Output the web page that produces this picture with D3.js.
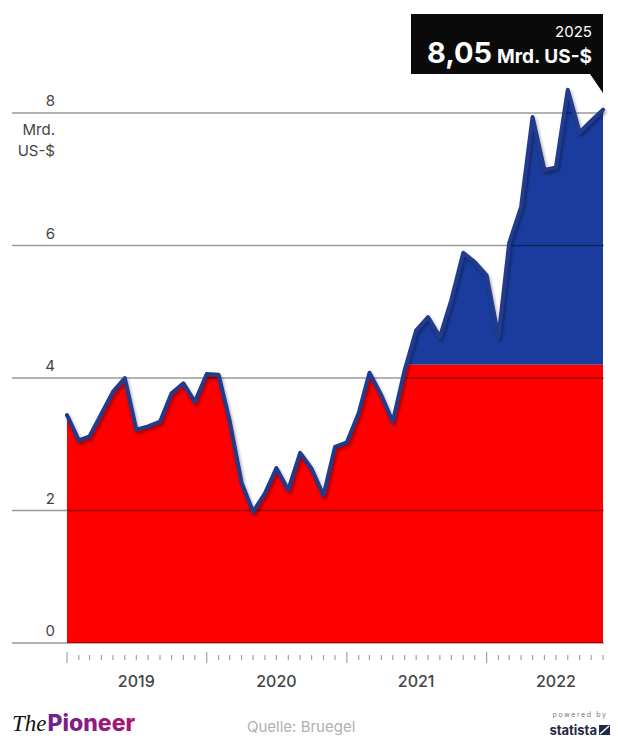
<!DOCTYPE html>
<html>
<head>
<meta charset="utf-8">
<script src="https://cdn.jsdelivr.net/npm/d3@7"></script>
<style>
  html, body { margin: 0; padding: 0; background: #fff; }
  svg { display: block; }
  text { font-family: "Inter", "Open Sans", sans-serif; }
</style>
</head>
<body>
<div id="chart"></div>
<script>
// ---------- DATA ----------
const startMonth = "2019-01";
const values = [
  3.44, 3.06, 3.12, 3.46, 3.79, 4.00, 3.22, 3.27, 3.34, 3.77, 3.92, 3.64,
  4.06, 4.05, 3.35, 2.42, 1.98, 2.26, 2.64, 2.31, 2.87, 2.63, 2.23, 2.96,
  3.03, 3.47, 4.08, 3.74, 3.34, 4.12, 4.72, 4.92, 4.62, 5.18, 5.89, 5.75,
  5.55, 4.62, 6.04, 6.58, 7.94, 7.14, 7.18, 8.35, 7.71, 7.88, 8.05
];
const threshold = 4.2;
const yTicks = [0, 2, 4, 6, 8];
const yearLabels = ["2019", "2020", "2021", "2022"];
const unitLines = ["Mrd.", "US-$"];
const calloutYear = "2025";
const calloutValue = "8,05";
const calloutUnit = "Mrd. US-$";
const sourceText = "Quelle: Bruegel";

// ---------- SETUP ----------
const W = 618, H = 738;
const parse = d3.timeParse("%Y-%m");
const t0 = parse(startMonth);
const data = values.map((v, i) => ({ date: d3.timeMonth.offset(t0, i), value: v }));

const svg = d3.select("#chart").append("svg").attr("width", W).attr("height", H);

const x = d3.scaleTime()
  .domain([data[0].date, data[data.length - 1].date])
  .range([67, 603]);
const y = d3.scaleLinear().domain([0, 8]).range([643, 113]);

const defs = svg.append("defs");
const f = defs.append("filter").attr("id", "shadow")
  .attr("x", "-5%").attr("y", "-5%").attr("width", "110%").attr("height", "120%");
f.append("feDropShadow").attr("dx", 1.5).attr("dy", 2.5).attr("stdDeviation", 1.6)
  .attr("flood-color", "#000").attr("flood-opacity", 0.35);

const area = d3.area().x(d => x(d.date)).y0(y(0)).y1(d => y(d.value));
const line = d3.line().x(d => x(d.date)).y(d => y(d.value));

defs.append("clipPath").attr("id", "areaClip")
  .append("path").attr("d", area(data));

const fills = svg.append("g").attr("clip-path", "url(#areaClip)");
const [xl, xr] = x.range();
fills.append("rect")
  .attr("x", xl).attr("width", xr - xl)
  .attr("y", 0).attr("height", y(threshold))
  .attr("fill", "#1a3c9e");
fills.append("rect")
  .attr("x", xl).attr("width", xr - xl)
  .attr("y", y(threshold)).attr("height", y(0) - y(threshold))
  .attr("fill", "#fe0000");

// ---------- GRID + Y LABELS ----------
const grid = svg.append("g");
grid.selectAll("line").data(yTicks).join("line")
  .attr("x1", 12).attr("x2", 604)
  .attr("y1", d => y(d)).attr("y2", d => y(d))
  .attr("stroke", "#000").attr("stroke-opacity", 0.4).attr("stroke-width", 1.3);
grid.selectAll("text").data(yTicks).join("text")
  .attr("x", 55).attr("y", d => y(d) - 7)
  .attr("text-anchor", "end")
  .attr("font-size", 15).attr("fill", "#444")
  .text(d => d);
svg.append("g").selectAll("text").data(unitLines).join("text")
  .attr("x", 55).attr("y", (d, i) => y(8) + 22 + i * 21)
  .attr("text-anchor", "end")
  .attr("font-size", 15).attr("fill", "#444")
  .text(d => d);

// ---------- LINE ----------
svg.append("path").datum(data)
  .attr("d", line)
  .attr("fill", "none")
  .attr("stroke", "#213a8c")
  .attr("stroke-width", 4)
  .attr("stroke-linejoin", "round")
  .attr("stroke-linecap", "round")
  .attr("filter", "url(#shadow)");

// ---------- X AXIS ----------
const months = d3.timeMonth.range(data[0].date, d3.timeMonth.offset(data[data.length - 1].date, 1));
const ax = svg.append("g");
ax.selectAll("line").data(months).join("line")
  .attr("x1", d => x(d)).attr("x2", d => x(d))
  .attr("y1", d => d.getMonth() === 0 ? 652 : 655)
  .attr("y2", d => d.getMonth() === 0 ? 663 : 660)
  .attr("stroke", "#999").attr("stroke-width", 1.1);
ax.selectAll("text").data(yearLabels).join("text")
  .attr("x", d => x(new Date(+d, 6, 1)))
  .attr("y", 687)
  .attr("text-anchor", "middle")
  .attr("font-size", 16).attr("font-weight", 500).attr("fill", "#444")
  .text(d => d);

// ---------- CALLOUT ----------
const last = data[data.length - 1];
const cx = x(last.date);
const co = svg.append("g");
co.append("path")
  .attr("d", `M411,14 H${cx} V93 L${cx - 13},74 H411 Z`)
  .attr("fill", "#0a0a0a");
co.append("text").attr("x", 592).attr("y", 37).attr("text-anchor", "end")
  .attr("font-size", 15).attr("fill", "#fff").text(calloutYear);
const ct = co.append("text").attr("x", 592).attr("y", 63).attr("text-anchor", "end")
  .attr("fill", "#fff").attr("font-weight", 700);
ct.append("tspan").attr("font-size", 29).text(calloutValue);
ct.append("tspan").attr("font-size", 19).attr("dx", 5).text(calloutUnit);

// ---------- FOOTER ----------
const grad = defs.append("linearGradient").attr("id", "pion").attr("x1", "0").attr("x2", "1");
grad.append("stop").attr("offset", "0").attr("stop-color", "#4a2aa8");
grad.append("stop").attr("offset", "1").attr("stop-color", "#b0146e");
const logo = svg.append("text").attr("x", 12).attr("y", 731);
logo.append("tspan").attr("font-family", "Liberation Serif, serif").attr("font-style", "italic")
  .attr("font-size", 23).attr("fill", "#111").text("The");
logo.append("tspan").attr("font-size", 23).attr("font-weight", 800).attr("dx", 1)
  .attr("fill", "url(#pion)").text("Pioneer");

svg.append("text").attr("x", 247).attr("y", 732)
  .attr("font-size", 15).attr("fill", "#b0b0b0").text(sourceText);

svg.append("text").attr("x", 580).attr("y", 717).attr("text-anchor", "middle")
  .attr("font-size", 7).attr("letter-spacing", 1.6).attr("fill", "#777").text("powered by");
svg.append("text").attr("x", 597).attr("y", 735).attr("text-anchor", "end")
  .attr("font-size", 13).attr("font-weight", 700).attr("fill", "#1f2a44").text("statista");
svg.append("rect").attr("x", 599).attr("y", 725).attr("width", 11).attr("height", 10).attr("fill", "#1f2a44");
svg.append("line").attr("x1", 600).attr("y1", 734).attr("x2", 609).attr("y2", 726)
  .attr("stroke", "#fff").attr("stroke-width", 1.5);
</script>
</body>
</html>
